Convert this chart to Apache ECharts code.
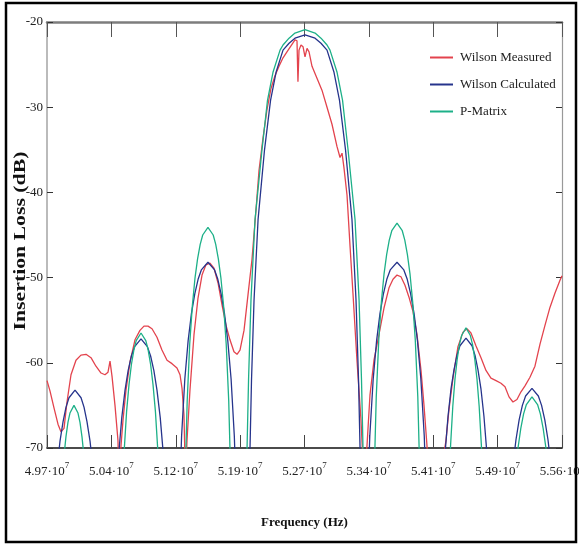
<!DOCTYPE html>
<html><head><meta charset="utf-8">
<script src="https://cdn.jsdelivr.net/npm/echarts@6/dist/echarts.min.js"></script>
<style>html,body{margin:0;padding:0;background:#fff}#c{width:579px;height:545px}</style>
</head><body><div id="c"></div>
<script>
// Frequency in units of 10^7 Hz, loss in dB
const xTickLabels = ['4.97','5.04','5.12','5.19','5.27','5.34','5.41','5.49','5.56'];
const xMin = 4.97, xMax = 5.56;
const yMin = -70, yMax = -20, yStep = 10;
const yTitle = 'Insertion Loss (dB)';
const xTitle = 'Frequency (Hz)';

const measuredFreq = [4.9700,4.9734,4.9780,4.9826,4.9860,4.9895,4.9929,4.9975,5.0032,5.0089,
5.0147,5.0204,5.0261,5.0319,5.0364,5.0399,5.0422,5.0445,5.0479,5.0513,
5.0525,5.0548,5.0571,5.0605,5.0651,5.0708,5.0765,5.0811,5.0857,5.0903,
5.0960,5.1017,5.1075,5.1132,5.1189,5.1224,5.1247,5.1269,5.1287,5.1304,
5.1338,5.1384,5.1430,5.1476,5.1521,5.1567,5.1613,5.1659,5.1705,5.1751,
5.1796,5.1842,5.1877,5.1911,5.1957,5.2003,5.2048,5.2094,5.2129,5.2175,
5.2220,5.2266,5.2312,5.2358,5.2404,5.2449,5.2495,5.2541,5.2564,5.2575,
5.2587,5.2610,5.2633,5.2656,5.2679,5.2702,5.2736,5.2793,5.2850,5.2908,
5.2965,5.3022,5.3057,5.3080,5.3102,5.3137,5.3171,5.3205,5.3251,5.3297,
5.3331,5.3366,5.3400,5.3446,5.3503,5.3560,5.3618,5.3664,5.3710,5.3755,
5.3801,5.3847,5.3893,5.3939,5.3985,5.4019,5.4053,5.4065,5.4168,5.4271,
5.4305,5.4351,5.4408,5.4466,5.4511,5.4557,5.4614,5.4672,5.4729,5.4786,
5.4844,5.4901,5.4947,5.4993,5.5038,5.5084,5.5130,5.5176,5.5233,5.5290,
5.5348,5.5405,5.5462,5.5520,5.5577,5.5600];
const measuredLoss = [-62.1,-63.3,-65.3,-67.2,-68.1,-67.7,-64.6,-61.4,-59.7,-59.1,
-59.0,-59.4,-60.4,-61.2,-61.4,-61.1,-59.8,-61.6,-65.0,-69.1,
-74.0,-69.7,-66.7,-63.2,-59.9,-57.3,-56.2,-55.7,-55.7,-56.0,
-57.0,-58.5,-59.7,-60.1,-60.6,-61.4,-63.0,-66.1,-74.0,-69.1,
-63.2,-56.7,-52.4,-49.7,-48.5,-48.3,-48.9,-50.6,-53.2,-55.6,
-57.3,-58.7,-59.0,-58.5,-56.2,-52.0,-47.9,-42.1,-37.4,-33.6,
-30.3,-27.8,-26.3,-25.2,-24.2,-23.5,-22.8,-22.1,-22.2,-27.0,
-23.3,-22.7,-22.9,-24.1,-23.1,-23.5,-25.2,-26.6,-28.0,-30.0,
-32.0,-34.6,-35.9,-35.4,-37.1,-40.3,-46.2,-51.8,-59.7,-66.7,
-74.0,-69.7,-63.8,-59.7,-56.7,-53.6,-51.2,-50.2,-49.7,-49.9,
-50.9,-52.3,-54.0,-56.7,-60.9,-65.0,-69.7,-72.0,-76.0,-69.1,
-65.5,-61.8,-58.1,-56.4,-56.0,-56.5,-58.0,-59.4,-60.9,-61.8,
-62.1,-62.4,-62.8,-64.0,-64.6,-64.3,-63.4,-62.7,-61.7,-60.4,
-57.8,-55.6,-53.5,-51.8,-50.3,-49.8];

const calcFreq = [
4.9677,4.9780,4.9815,4.9849,4.9884,4.9918,4.9952,5.0021,5.0090,5.0124,5.0158,5.0193,5.0227,5.0262,5.0365,
5.0410,5.0484,5.0520,5.0557,5.0594,5.0630,5.0667,5.0704,5.0777,5.0850,5.0887,5.0924,5.0960,5.0997,5.1034,5.1070,5.1144,
5.1166,5.1204,5.1242,5.1279,5.1317,5.1355,5.1393,5.1431,5.1468,5.1544,5.1620,5.1657,5.1695,5.1733,5.1771,5.1809,5.1846,5.1884,5.1922,
5.2003,5.2026,5.2043,5.2072,5.2118,5.2192,5.2261,5.2324,5.2404,5.2473,5.2541,5.2656,5.2771,5.2839,5.2908,5.2988,5.3051,5.3120,5.3194,5.3240,5.3269,5.3286,5.3309,
5.3320,5.3359,5.3398,5.3437,5.3476,5.3515,5.3554,5.3593,5.3632,5.3710,5.3788,5.3827,5.3866,5.3905,5.3944,5.3983,5.4022,5.4061,5.4100,
5.4156,5.4225,5.4259,5.4294,5.4328,5.4363,5.4397,5.4431,5.4500,5.4569,5.4603,5.4637,5.4672,5.4706,5.4741,5.4775,5.4844,
5.4889,5.4999,5.5036,5.5073,5.5109,5.5146,5.5183,5.5256,5.5329,5.5366,5.5403,5.5439,5.5476,5.5513,5.5623];
const calcLoss = [
-90,-76.9,-72.4,-69.2,-66.9,-65.2,-64.1,-63.2,-64.1,-65.2,-66.9,-69.2,-72.4,-76.9,-90,
-90,-77.6,-70.9,-66.4,-63.2,-60.9,-59.2,-58.1,-57.2,-58.1,-59.2,-60.9,-63.2,-66.4,-70.9,-77.6,-90,
-90,-80.4,-68.6,-61.9,-57.4,-54.2,-51.9,-50.2,-49.1,-48.2,-49.1,-50.2,-51.9,-54.2,-57.4,-61.9,-68.6,-80.4,-90,
-85,-69.9,-62.0,-52.6,-43.2,-35.0,-29.2,-25.9,-23.3,-22.5,-21.9,-21.5,-21.9,-22.5,-23.3,-25.9,-29.2,-35.0,-43.2,-52.6,-62.0,-69.9,-85,
-90,-80.4,-68.6,-61.9,-57.4,-54.2,-51.9,-50.2,-49.1,-48.2,-49.1,-50.2,-51.9,-54.2,-57.4,-61.9,-68.6,-80.4,-90,
-90,-77.5,-70.8,-66.3,-63.1,-60.8,-59.1,-58.0,-57.1,-58.0,-59.1,-60.8,-63.1,-66.3,-70.8,-77.5,-90,
-90,-76.7,-72.2,-69.0,-66.7,-65.0,-63.9,-63.0,-63.9,-65.0,-66.7,-69.0,-72.2,-76.7,-90];

const pmatFreq = [
4.9780,4.9849,4.9872,4.9894,4.9917,4.9940,4.9963,5.0009,5.0055,5.0078,5.0101,5.0124,5.0146,5.0169,5.0238,
5.0502,5.0557,5.0585,5.0612,5.0640,5.0667,5.0695,5.0722,5.0777,5.0832,5.0859,5.0887,5.0914,5.0942,5.0969,5.0997,5.1052,
5.1246,5.1276,5.1306,5.1335,5.1365,5.1395,5.1425,5.1455,5.1484,5.1544,5.1604,5.1633,5.1663,5.1693,5.1723,5.1753,5.1782,5.1812,5.1842,
5.1969,5.1992,5.2009,5.2037,5.2083,5.2163,5.2226,5.2289,5.2370,5.2404,5.2473,5.2541,5.2656,5.2771,5.2839,5.2908,5.2942,5.3023,5.3086,5.3149,5.3229,5.3275,5.3303,5.3320,5.3343,
5.3412,5.3442,5.3472,5.3501,5.3531,5.3561,5.3591,5.3621,5.3650,5.3710,5.3770,5.3799,5.3829,5.3859,5.3889,5.3919,5.3948,5.3978,5.4008,
5.4248,5.4298,5.4324,5.4349,5.4374,5.4399,5.4424,5.4450,5.4500,5.4550,5.4576,5.4601,5.4626,5.4651,5.4676,5.4702,5.4752,
5.4935,5.5031,5.5064,5.5096,5.5128,5.5160,5.5192,5.5256,5.5320,5.5352,5.5384,5.5416,5.5448,5.5481,5.5577];
const pmatLoss = [
-90,-78.7,-74.2,-71.0,-68.7,-67.0,-65.9,-65.0,-65.9,-67.0,-68.7,-71.0,-74.2,-78.7,-90,
-90,-76.9,-70.2,-65.7,-62.5,-60.2,-58.5,-57.4,-56.5,-57.4,-58.5,-60.2,-62.5,-65.7,-70.2,-76.9,-90,
-90,-76.3,-64.5,-57.8,-53.3,-50.1,-47.8,-46.1,-45.0,-44.1,-45.0,-46.1,-47.8,-50.1,-53.3,-57.8,-64.5,-76.3,-90,
-85,-69.9,-62.0,-52.6,-43.2,-35.0,-29.2,-25.9,-23.3,-22.7,-21.9,-21.3,-20.9,-21.3,-21.9,-22.7,-23.3,-25.9,-29.2,-35.0,-43.2,-52.6,-62.0,-69.9,-85,
-90,-75.8,-64.0,-57.3,-52.8,-49.6,-47.3,-45.6,-44.5,-43.6,-44.5,-45.6,-47.3,-49.6,-52.8,-57.3,-64.0,-75.8,-90,
-90,-76.3,-69.6,-65.1,-61.9,-59.6,-57.9,-56.8,-55.9,-56.8,-57.9,-59.6,-61.9,-65.1,-69.6,-76.3,-90,
-90,-77.7,-73.2,-70.0,-67.7,-66.0,-64.9,-64.0,-64.9,-66.0,-67.7,-70.0,-73.2,-77.7,-90];

const seriesNames = ['Wilson Measured','Wilson Calculated','P-Matrix'];
const seriesColors = ['#e3434d','#26348c','#1db088'];

const pairs = (xs, ys) => xs.map((x, i) => [x, ys[i]]);
const xTickValues = xTickLabels.map((_, i) => Number((xMin + i * (xMax - xMin) / (xTickLabels.length - 1)).toFixed(5)));
const FONT = 'Liberation Serif';

const chart = echarts.init(document.getElementById('c'), null, {renderer: 'canvas'});
chart.setOption({
  animation: false,
  backgroundColor: '#fff',
  grid: {left: 47, right: 17, top: 22, bottom: 97, containLabel: false, outerBoundsMode: 'none'},
  legend: {
    orient: 'vertical', left: 430, top: 51, padding: 0, itemWidth: 23, itemHeight: 2, itemGap: 14,
    icon: 'rect',
    data: seriesNames,
    textStyle: {fontFamily: FONT, fontSize: 13, color: '#222', padding: [0, 0, 0, 2]}
  },
  graphic: [{
    type: 'rect', silent: true, z: 100,
    shape: {x: 6, y: 3, width: 570, height: 539},
    style: {fill: 'none', stroke: '#000', lineWidth: 2.5}
  }, {
    type: 'text', silent: true, z: 100,
    x: 21, y: 241, rotation: Math.PI / 2, scaleX: 1.28, scaleY: 1,
    style: {text: yTitle, font: 'bold 17px "Liberation Serif"', fill: '#111', align: 'center', verticalAlign: 'middle'}
  }],
  xAxis: [{
    type: 'value', min: xMin, max: xMax, position: 'bottom',
    axisLine: {show: true, lineStyle: {color: '#111', width: 1.5}},
    axisTick: {show: true, inside: true, length: 13, customValues: xTickValues, lineStyle: {color: '#444', width: 1}},
    axisLabel: {
      customValues: xTickValues, margin: 13,
      formatter: function (v) {
        const i = Math.round((v - xMin) / ((xMax - xMin) / (xTickLabels.length - 1)));
        return '{m|' + xTickLabels[i] + '·10}{s|7}';
      },
      rich: {
        m: {fontFamily: FONT, fontSize: 13, color: '#222'},
        s: {fontFamily: FONT, fontSize: 9, color: '#222', padding: [0, 0, 12, 0]}
      }
    },
    splitLine: {show: false},
    name: xTitle, nameLocation: 'middle', nameGap: 68, nameMoveOverlap: false,
    nameTextStyle: {fontFamily: FONT, fontWeight: 'bold', fontSize: 13, color: '#111'}
  }, {
    type: 'value', min: xMin, max: xMax, position: 'top',
    axisLine: {show: true, lineStyle: {color: '#7d7d7d', width: 2.5}},
    axisTick: {show: true, inside: true, length: 15, customValues: xTickValues, lineStyle: {color: '#555', width: 1}},
    axisLabel: {show: false},
    splitLine: {show: false}
  }],
  yAxis: [{
    type: 'value', min: yMin, max: yMax, interval: yStep, position: 'left',
    axisLine: {show: true, lineStyle: {color: '#a5a5a5', width: 1.5}},
    axisTick: {show: true, inside: true, length: 6, lineStyle: {color: '#333', width: 1}},
    axisLabel: {fontFamily: FONT, fontSize: 13, color: '#222', margin: 4},
    splitLine: {show: false}
  }, {
    type: 'value', min: yMin, max: yMax, interval: yStep, position: 'right',
    axisLine: {show: true, lineStyle: {color: '#999', width: 1.2}},
    axisTick: {show: true, inside: true, length: 6, lineStyle: {color: '#333', width: 1}},
    axisLabel: {show: false},
    splitLine: {show: false}
  }],
  series: [
    {name: seriesNames[0], type: 'line', data: pairs(measuredFreq, measuredLoss)},
    {name: seriesNames[1], type: 'line', data: pairs(calcFreq, calcLoss)},
    {name: seriesNames[2], type: 'line', data: pairs(pmatFreq, pmatLoss)}
  ].map((s, i) => Object.assign(s, {
    xAxisIndex: 0, yAxisIndex: 0, symbol: 'none', showSymbol: false, clip: true,
    color: seriesColors[i], lineStyle: {color: seriesColors[i], width: 1.3}
  }))
});
</script>
</body></html>
